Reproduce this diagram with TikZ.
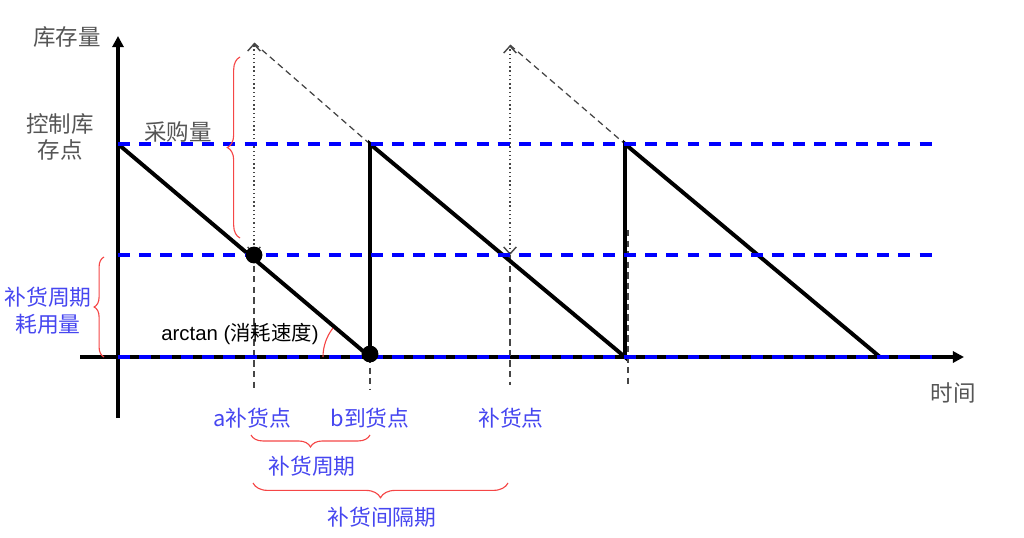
\documentclass[tikz,border=0pt]{standalone}
\usepackage{fontspec}
\setmainfont{Liberation Sans}
\newfontfamily\cjk{Noto Sans CJK SC}
\usetikzlibrary{arrows.meta,decorations.pathreplacing}
\definecolor{lblblue}{RGB}{70,70,240}
\definecolor{lblgray}{RGB}{85,85,85}
\definecolor{bracered}{RGB}{245,70,70}
\definecolor{guidegray}{RGB}{70,70,70}
\begin{document}
\begin{tikzpicture}[x=0.025cm,y=-0.025cm,
  axisline/.style={line width=2.6pt,-{Triangle[length=8pt,width=8pt]}},
  sawline/.style={line width=2.8pt,line join=miter},
  levelline/.style={blue,line width=2.3pt,dash pattern=on 8.5pt off 6.5pt},
  guideline/.style={guidegray,line width=0.9pt,dash pattern=on 4.5pt off 3pt},
  dotline/.style={guidegray,line width=1pt,dotted,{Straight Barb[length=5pt,width=9pt]}-{Straight Barb[length=5pt,width=9pt]}},
  redbrace/.style={bracered,line width=0.8pt,decorate},
  dotnode/.style={circle,fill=black,inner sep=0pt,minimum size=12pt},
  graytext/.style={text=lblgray,font=\cjk\fontsize{16}{19}\selectfont,align=center,inner sep=0pt},
  bluetext/.style={text=lblblue,font=\cjk\fontsize{15.5}{19}\selectfont,align=center,inner sep=0pt},
  smalltext/.style={text=black,font=\fontsize{14.5}{16}\selectfont,inner sep=0pt}
]
\useasboundingbox (0,0) rectangle (1024,538);

% key points
\coordinate (ybot) at (118,418);
\coordinate (ytop) at (118,36);
\coordinate (xl) at (80,357);
\coordinate (xr) at (964,357);
\coordinate (P0) at (118,144);
\coordinate (B1) at (370,357);
\coordinate (T1) at (370,144);
\coordinate (B2) at (625,357);
\coordinate (T2) at (625,144);
\coordinate (B3) at (880,357);
\coordinate (R1) at (254,255);
\coordinate (R2) at (510,255);
\coordinate (U1) at (254,43);
\coordinate (U2) at (510,45);
\coordinate (L1s) at (118,144); \coordinate (L1e) at (935,144);
\coordinate (L2s) at (118,255); \coordinate (L2e) at (935,255);
\coordinate (L3s) at (118,357); \coordinate (L3e) at (935,357);
\coordinate (g1e) at (254,388);
\coordinate (g2e) at (370,390);
\coordinate (g3e) at (510,385);
\coordinate (g4s) at (628,230);
\coordinate (g4e) at (628,385);

% axes
\draw[axisline] (ybot) -- (ytop);
\draw[axisline] (xl) -- (xr);

% guide lines
\draw[guideline] (R1) -- (g1e);
\draw[guideline] (B1) -- (g2e);
\draw[guideline] (R2) -- (g3e);
\draw[guideline] (g4s) -- (g4e);
\draw[guideline] (U1) -- (T1);
\draw[guideline] (U2) -- (T2);
\draw[dotline] (R1) -- (U1);
\draw[dotline] (R2) -- (U2);

% sawtooth
\draw[sawline] (P0) -- (B1) -- (T1) -- (B2) -- (T2) -- (B3);

% level lines
\draw[levelline] (L1s) -- (L1e);
\draw[levelline] (L2s) -- (L2e);
\draw[levelline] (L3s) -- (L3e);

% dots
\node[dotnode] (dA) at (R1) {};
\node[dotnode] (dB) at (370,354) {};

% angle arc
\draw[bracered,line width=0.8pt] (323,357) arc[start angle=180,end angle=142,radius=1.175cm];

% braces
\draw[redbrace,decoration={brace,amplitude=9pt}] (240,238) -- (240,57);
\draw[redbrace,decoration={brace,amplitude=7pt}] (104,357) -- (104,257);
\draw[redbrace,decoration={brace,amplitude=8.5pt}] (370,435) -- (251,435);
\draw[redbrace,decoration={brace,amplitude=10.5pt}] (508,483) -- (253,483);

% texts
\node[graytext] (tq) at (67,37) {库存量};
\node[graytext] (tc) at (60,137) {控制库\\存点};
\node[graytext] (tp) at (178,132) {采购量};
\node[graytext] (tt) at (953,393) {时间};
\node[bluetext] (tu) at (48,311) {补货周期\\耗用量};
\node[smalltext] (ta) at (240,334) {arctan ({\cjk 消耗速度})};
\node[bluetext] (la) at (252,418) {a补货点};
\node[bluetext] (lb) at (370,418) {b到货点};
\node[bluetext] (lc) at (511,418) {补货点};
\node[bluetext] (ld) at (312,466) {补货周期};
\node[bluetext] (le) at (382,517) {补货间隔期};
\end{tikzpicture}
\end{document}
